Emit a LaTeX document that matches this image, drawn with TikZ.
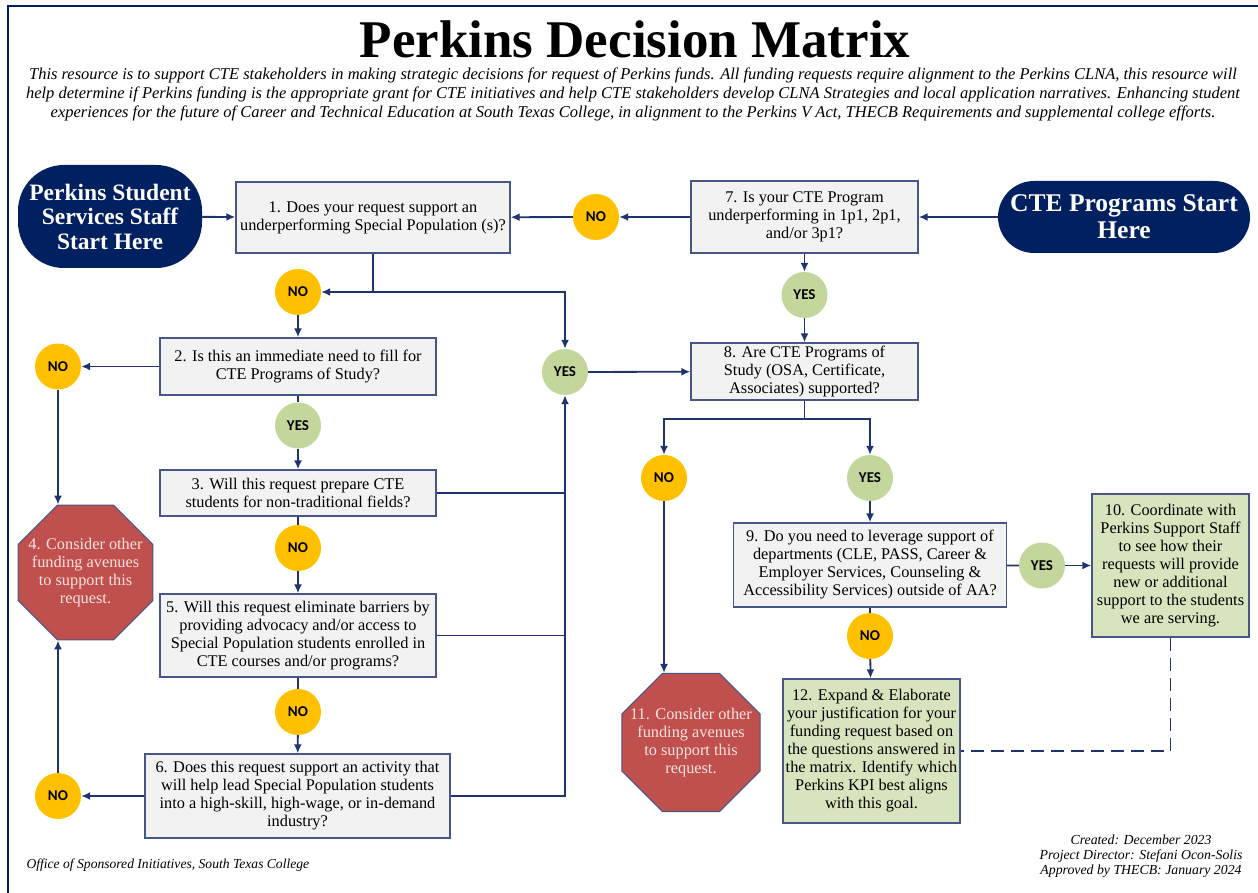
\documentclass[tikz,border=0pt]{standalone}
\usepackage{fontspec}
\setmainfont{Liberation Serif}
\newfontfamily\badgefont{Carlito}
\usetikzlibrary{shapes.geometric, arrows.meta, positioning, calc}
\definecolor{startNavy}{RGB}{0, 32, 96}
\definecolor{lineNavy}{RGB}{31, 52, 110}
\definecolor{boxGray}{RGB}{242, 242, 242}
\definecolor{boxEdge}{RGB}{70, 86, 135}
\definecolor{noYellow}{RGB}{255, 192, 0}
\definecolor{yesGreen}{RGB}{195, 214, 155}
\definecolor{stopRed}{RGB}{192, 80, 77}
\definecolor{stopText}{RGB}{250, 228, 225}
\definecolor{goalGreen}{RGB}{215, 228, 189}

\begin{document}
\begin{tikzpicture}[x=10pt, y=-10pt,
		dm_start/.style = {fill=startNavy, rectangle, text=white, align=center,
			font=\bfseries\fontsize{23.5}{24.5}\selectfont, inner sep=0pt},
		dm_q/.style     = {draw=boxEdge, fill=boxGray, rectangle, line width=1.3pt,
			align=center, inner sep=1pt, font=\fontsize{16.3}{18}\selectfont},
		dm_goal/.style  = {dm_q, fill=goalGreen},
		dm_stop/.style  = {draw=boxEdge, fill=stopRed, regular polygon, regular polygon sides=8,
			minimum size=146pt, inner sep=-12pt, line width=1pt, align=center, text=stopText,
			font=\fontsize{16.3}{18}\selectfont},
		dm_no/.style    = {circle, fill=noYellow, minimum size=46pt, inner sep=0pt,
			font=\badgefont\bfseries\fontsize{15}{16}\selectfont},
		dm_yes/.style   = {dm_no, fill=yesGreen},
		conn/.style     = {draw=lineNavy, line width=1.8pt},
		line/.style     = {conn, -{Latex[length=9pt, width=8pt]}}
		]
		\useasboundingbox (0,0) rectangle (125.8,89.3);
		\draw[startNavy, line width=2.5pt] (125.8,0.6) -- (0.8,0.6) -- (0.8,89.3);
		
		\node[font=\bfseries\fontsize{53}{55}\selectfont, inner sep=0pt] (title) at (63.5,3.9) {Perkins Decision Matrix};
		\node[font=\itshape\fontsize{16.5}{19}\selectfont, align=center, inner sep=0pt] (intro) at (63.3,9.45)
		{This resource is to support CTE stakeholders in making strategic decisions for request of Perkins funds. All funding requests require alignment to the Perkins CLNA, this resource will\\
			help determine if Perkins funding is the appropriate grant for CTE initiatives and help CTE stakeholders develop CLNA Strategies and local application narratives. Enhancing student\\
			experiences for the future of Career and Technical Education at South Texas College, in alignment to the Perkins V Act, THECB Requirements and supplemental college efforts.};
		
		\node[dm_start, minimum width=184pt, minimum height=103pt, rounded corners=46pt] (start_staff) at (11.0,21.65)
		{Perkins Student\\Services Staff\\Start Here};
		\node[dm_start, minimum width=252pt, minimum height=72pt, rounded corners=36pt,
		font=\bfseries\fontsize{25.5}{27}\selectfont] (start_cte) at (112.4,21.7) {CTE Programs Start\\Here};
		
		\node[dm_q, minimum width=274pt, minimum height=71pt] (q1) at (37.3,21.75)
		{1. Does your request support an\\underperforming Special Population (s)?};
		\node[dm_no] (no_7) at (59.6,21.7) {NO};
		\node[dm_q, minimum width=227pt, minimum height=72pt] (q7) at (80.45,21.7)
		{7. Is your CTE Program\\underperforming in 1p1, 2p1,\\and/or 3p1?};
		\node[dm_yes] (yes_7) at (80.45,29.5) {YES};
		\node[dm_q, minimum width=227pt, minimum height=57pt] (q8) at (80.45,37.15)
		{8. Are CTE Programs of\\Study (OSA, Certificate,\\Associates) supported?};
		
		\node[dm_no] (no_1) at (29.8,29.2) {NO};
		\node[dm_yes] (yes_1) at (56.5,37.2) {YES};
		\node[dm_q, minimum width=276pt, minimum height=57pt] (q2) at (29.8,36.65)
		{2. Is this an immediate need to fill for\\CTE Programs of Study?};
		\node[dm_no] (no_2) at (5.8,36.65) {NO};
		\node[dm_yes] (yes_2) at (29.8,42.55) {YES};
		\node[dm_q, minimum width=276pt, minimum height=46pt] (q3) at (29.8,49.3)
		{3. Will this request prepare CTE\\students for non-traditional fields?};
		\node[dm_no] (no_3) at (29.8,54.8) {NO};
		\node[dm_q, minimum width=276pt, minimum height=83pt] (q5) at (29.8,63.55)
		{5. Will this request eliminate barriers by\\providing advocacy and/or access to\\Special Population students enrolled in\\CTE courses and/or programs?};
		\node[dm_no] (no_5) at (29.8,71.2) {NO};
		\node[dm_q, minimum width=305pt, minimum height=84pt] (q6) at (29.75,79.6)
		{6. Does this request support an activity that\\will help lead Special Population students\\into a high-skill, high-wage, or in-demand\\industry?};
		\node[dm_no] (no_6) at (5.8,79.6) {NO};
		\node[dm_stop] (stop_4) at (8.55,57.25) {4. Consider other\\funding avenues\\to support this\\request.};
		
		\node[dm_no] (no_8) at (66.4,47.8) {NO};
		\node[dm_yes] (yes_8) at (87.0,47.8) {YES};
		\node[dm_q, minimum width=273pt, minimum height=84pt] (q9) at (87.0,56.5)
		{9. Do you need to leverage support of\\departments (CLE, PASS, Career \&\\Employer Services, Counseling \&\\Accessibility Services) outside of AA?};
		\node[dm_yes] (yes_9) at (104.2,56.55) {YES};
		\node[dm_goal, minimum width=157pt, minimum height=143pt] (q10) at (117.05,56.55)
		{10. Coordinate with\\Perkins Support Staff\\to see how their\\requests will provide\\new or additional\\support to the students\\we are serving.};
		\node[dm_no] (no_9) at (87.0,63.6) {NO};
		\node[dm_goal, minimum width=177pt, minimum height=144pt] (q12) at (87.15,75.1)
		{12. Expand \& Elaborate\\your justification for your\\funding request based on\\the questions answered in\\the matrix. Identify which\\Perkins KPI best aligns\\with this goal.};
		\node[dm_stop] (stop_11) at (69.1,74.25) {11. Consider other\\funding avenues\\to support this\\request.};
		
		\draw[line] (start_staff) -- (q1);
		\draw[line] (start_cte) -- (q7);
		\draw[line] (q7) -- (no_7);
		\draw[line] (no_7) -- (q1);
		\draw[line] (q7) -- (yes_7);
		\draw[line] (yes_7) -- (q8);
		
		\draw[line] (q1.south) |- (no_1);
		\draw[line] (q1.south |- no_1) -| (yes_1);
		\draw[line] (no_1) -- (q2);
		\draw[line] (q2) -- (no_2);
		\draw[line] (no_2) -- (no_2 |- stop_4.north);
		\draw[conn] (q2) -- (yes_2);
		\draw[line] (yes_2) -- (q3);
		\draw[conn] (q3) -- (no_3);
		\draw[line] (no_3) -- (q5);
		\draw[conn] (q5) -- (no_5);
		\draw[line] (no_5) -- (q6);
		\draw[line] (q6) -- (no_6);
		\draw[line] (no_6) -- (no_6 |- stop_4.south);
		\draw[conn] (q3.east) -- (q3.east -| yes_1);
		\draw[conn] (q5.east) -- (q5.east -| yes_1);
		\draw[line] (q6.east) -| (yes_1);
		\draw[line] (yes_1) -- (q8);
		
		\draw[line] (q8.south) -- ++(0,1.8) coordinate (split_8) -| (no_8);
		\draw[line] (split_8) -| (yes_8);
		\draw[line] (no_8) -- (no_8 |- stop_11.north);
		\draw[line] (yes_8) -- (q9);
		\draw[conn] (q9) -- (yes_9);
		\draw[line] (yes_9) -- (q10);
		\draw[conn] (q9) -- (no_9);
		\draw[line] (no_9) -- (q12);
		\draw[conn, dash pattern=on 13pt off 7pt] (q10.south) |- (q12.east);
		
		\node[font=\itshape\fontsize{13.6}{15}\selectfont, anchor=west] (office) at (2.3,86.5)
		{Office of Sponsored Initiatives, South Texas College};
		\node[font=\itshape\fontsize{13.8}{15}\selectfont, align=center] (credits) at (114.1,85.6)
		{Created: December 2023\\Project Director: Stefani Ocon-Solis\\Approved by THECB: January 2024};
\end{tikzpicture}
\end{document}
